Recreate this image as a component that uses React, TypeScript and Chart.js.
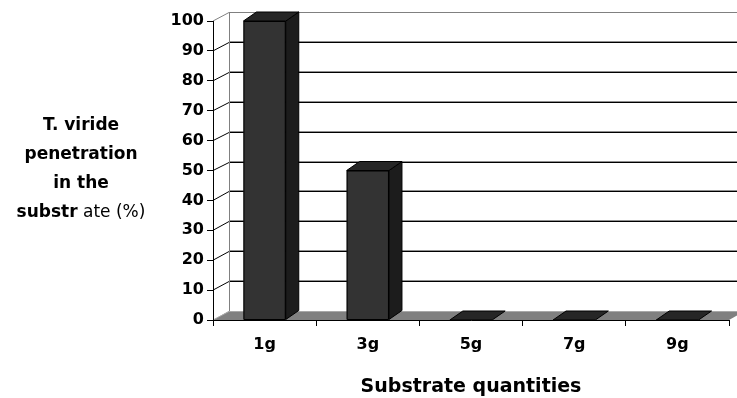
import React, { useEffect, useRef } from "react";
import { Chart, registerables } from "chart.js";

Chart.register(...registerables);

// ---- data ----
const categories = ["1g", "3g", "5g", "7g", "9g"];
const penetration = [100, 50, 0, 0, 0];
const yMin = 0;
const yMax = 100;
const yStep = 10;
const yTitleLines = ["T. viride", "penetration", "in the"];
const yTitleLastBold = "substr";
const yTitleLastNormal = " ate (%)";
const xTitle = "Substrate quantities";

// ---- style ----
const FONT = "'DejaVu Sans', 'Liberation Sans', Arial, sans-serif";
const WALL_DX = 16;
const WALL_DY = -9;
const BAR_DX = 13;
const BAR_DY = -9;

const threeD = {
  id: "threeD",
  beforeDraw(chart: any) {
    const { ctx, chartArea, scales } = chart;
    const ys = scales.y;
    const { left, right, top, bottom } = chartArea;
    ctx.save();
    // back wall
    ctx.fillStyle = "#ffffff";
    ctx.fillRect(left + WALL_DX, top + WALL_DY, right - left, bottom - top);
    // floor
    ctx.beginPath();
    ctx.moveTo(left, bottom);
    ctx.lineTo(right, bottom);
    ctx.lineTo(right + WALL_DX, bottom + WALL_DY);
    ctx.lineTo(left + WALL_DX, bottom + WALL_DY);
    ctx.closePath();
    ctx.fillStyle = "#808080";
    ctx.fill();
    ctx.strokeStyle = "#a8a8a8";
    ctx.lineWidth = 1;
    ctx.beginPath();
    ctx.moveTo(left, bottom);
    ctx.lineTo(left + WALL_DX, bottom + WALL_DY + 0.5);
    ctx.lineTo(right + WALL_DX, bottom + WALL_DY + 0.5);
    ctx.stroke();
    // wall gridlines
    ys.ticks.forEach((t: any) => {
      const v = t.value;
      if (v === yMin) return;
      const py = Math.round(ys.getPixelForValue(v) + WALL_DY) + 0.5;
      const isTop = v === yMax;
      if (!isTop) {
        ctx.strokeStyle = "#909090";
        ctx.beginPath();
        ctx.moveTo(left + WALL_DX, py - 1);
        ctx.lineTo(right + WALL_DX + 20, py - 1);
        ctx.stroke();
      }
      ctx.strokeStyle = isTop ? "#808080" : "#000000";
      ctx.beginPath();
      ctx.moveTo(left + WALL_DX, py);
      ctx.lineTo(right + WALL_DX + 20, py);
      ctx.stroke();
      ctx.beginPath();
      ctx.moveTo(left, ys.getPixelForValue(v));
      ctx.lineTo(left + WALL_DX, py);
      ctx.stroke();
    });
    // wall left edge
    ctx.strokeStyle = "#808080";
    ctx.beginPath();
    ctx.moveTo(Math.round(left + WALL_DX) + 0.5, top + WALL_DY);
    ctx.lineTo(Math.round(left + WALL_DX) + 0.5, bottom + WALL_DY);
    ctx.stroke();
    ctx.restore();
  },
  afterDatasetsDraw(chart: any) {
    const { ctx } = chart;
    const meta = chart.getDatasetMeta(0);
    ctx.save();
    ctx.lineWidth = 1;
    ctx.strokeStyle = "#000000";
    ctx.lineJoin = "round";
    meta.data.forEach((bar: any) => {
      const { x, y, base, width } = bar.getProps(["x", "y", "base", "width"], true);
      const x0 = x - width / 2;
      const x1 = x + width / 2;
      // side face
      if (base - y > 0.5) {
        ctx.beginPath();
        ctx.moveTo(x1, y);
        ctx.lineTo(x1 + BAR_DX, y + BAR_DY);
        ctx.lineTo(x1 + BAR_DX, base + BAR_DY);
        ctx.lineTo(x1, base);
        ctx.closePath();
        ctx.fillStyle = "#1c1c1c";
        ctx.fill();
        ctx.stroke();
        ctx.strokeRect(x0 + 0.5, y + 0.5, width - 1, base - y - 0.5);
      }
      // top face
      ctx.beginPath();
      ctx.moveTo(x0, y);
      ctx.lineTo(x1, y);
      ctx.lineTo(x1 + BAR_DX, y + BAR_DY);
      ctx.lineTo(x0 + BAR_DX, y + BAR_DY);
      ctx.closePath();
      ctx.fillStyle = "#262626";
      ctx.fill();
      ctx.stroke();
    });
    ctx.restore();
  },
  afterDraw(chart: any) {
    const { ctx } = chart;
    const cx = 81;
    const baseY = 130;
    const lh = 29;
    ctx.save();
    ctx.fillStyle = "#000000";
    ctx.textBaseline = "alphabetic";
    ctx.textAlign = "center";
    ctx.font = `bold 17px ${FONT}`;
    yTitleLines.forEach((line, i) => {
      ctx.fillText(line, cx, baseY + i * lh);
    });
    const yLast = baseY + yTitleLines.length * lh;
    const boldFont = `bold 17px ${FONT}`;
    const normFont = `17px ${FONT}`;
    ctx.font = boldFont;
    const wb = ctx.measureText(yTitleLastBold).width;
    ctx.font = normFont;
    const wn = ctx.measureText(yTitleLastNormal).width;
    const sx = cx - (wb + wn) / 2;
    ctx.textAlign = "left";
    ctx.font = boldFont;
    ctx.fillText(yTitleLastBold, sx, yLast);
    ctx.font = normFont;
    ctx.fillText(yTitleLastNormal, sx + wb, yLast);
    ctx.restore();
  },
};

export default function App() {
  const ref = useRef<HTMLCanvasElement>(null);
  useEffect(() => {
    document.body.style.margin = "0";
    const chart = new Chart(ref.current as HTMLCanvasElement, {
      type: "bar",
      data: {
        labels: categories,
        datasets: [
          {
            data: penetration,
            backgroundColor: "#333333",
            borderColor: "#000000",
            borderWidth: 0,
            categoryPercentage: 1,
            barPercentage: 0.41,
          },
        ],
      },
      options: {
        animation: false,
        responsive: true,
        maintainAspectRatio: false,
        layout: { padding: { left: 0, right: 8, top: 21, bottom: 0 } },
        plugins: {
          legend: { display: false },
          tooltip: { enabled: false },
        },
        scales: {
          x: {
            offset: true,
            grid: {
              offset: true,
              drawOnChartArea: false,
              drawTicks: true,
              tickLength: 6,
              color: "#000000",
            },
            border: { display: true, color: "#000000", width: 1 },
            ticks: {
              color: "#000000",
              font: { family: FONT, weight: "bold", size: 16 },
              padding: 9,
              maxRotation: 0,
            },
            title: {
              display: true,
              text: xTitle,
              color: "#000000",
              font: { family: FONT, weight: "bold", size: 19 },
              padding: { top: 0, bottom: 0 },
            },
            afterFit: (s: any) => {
              s.height = 78;
            },
          },
          y: {
            min: yMin,
            max: yMax,
            grid: {
              drawOnChartArea: false,
              drawTicks: true,
              tickLength: 6,
              color: "#000000",
            },
            border: { display: true, color: "#000000", width: 1 },
            ticks: {
              stepSize: yStep,
              color: "#000000",
              font: { family: FONT, weight: "bold", size: 16 },
              padding: 3,
            },
            afterFit: (s: any) => {
              s.width = 213;
            },
          },
        },
      },
      plugins: [threeD],
    });
    return () => chart.destroy();
  }, []);
  return (
    <div style={{ width: 737, height: 398, position: "relative" }}>
      <canvas ref={ref} />
    </div>
  );
}
